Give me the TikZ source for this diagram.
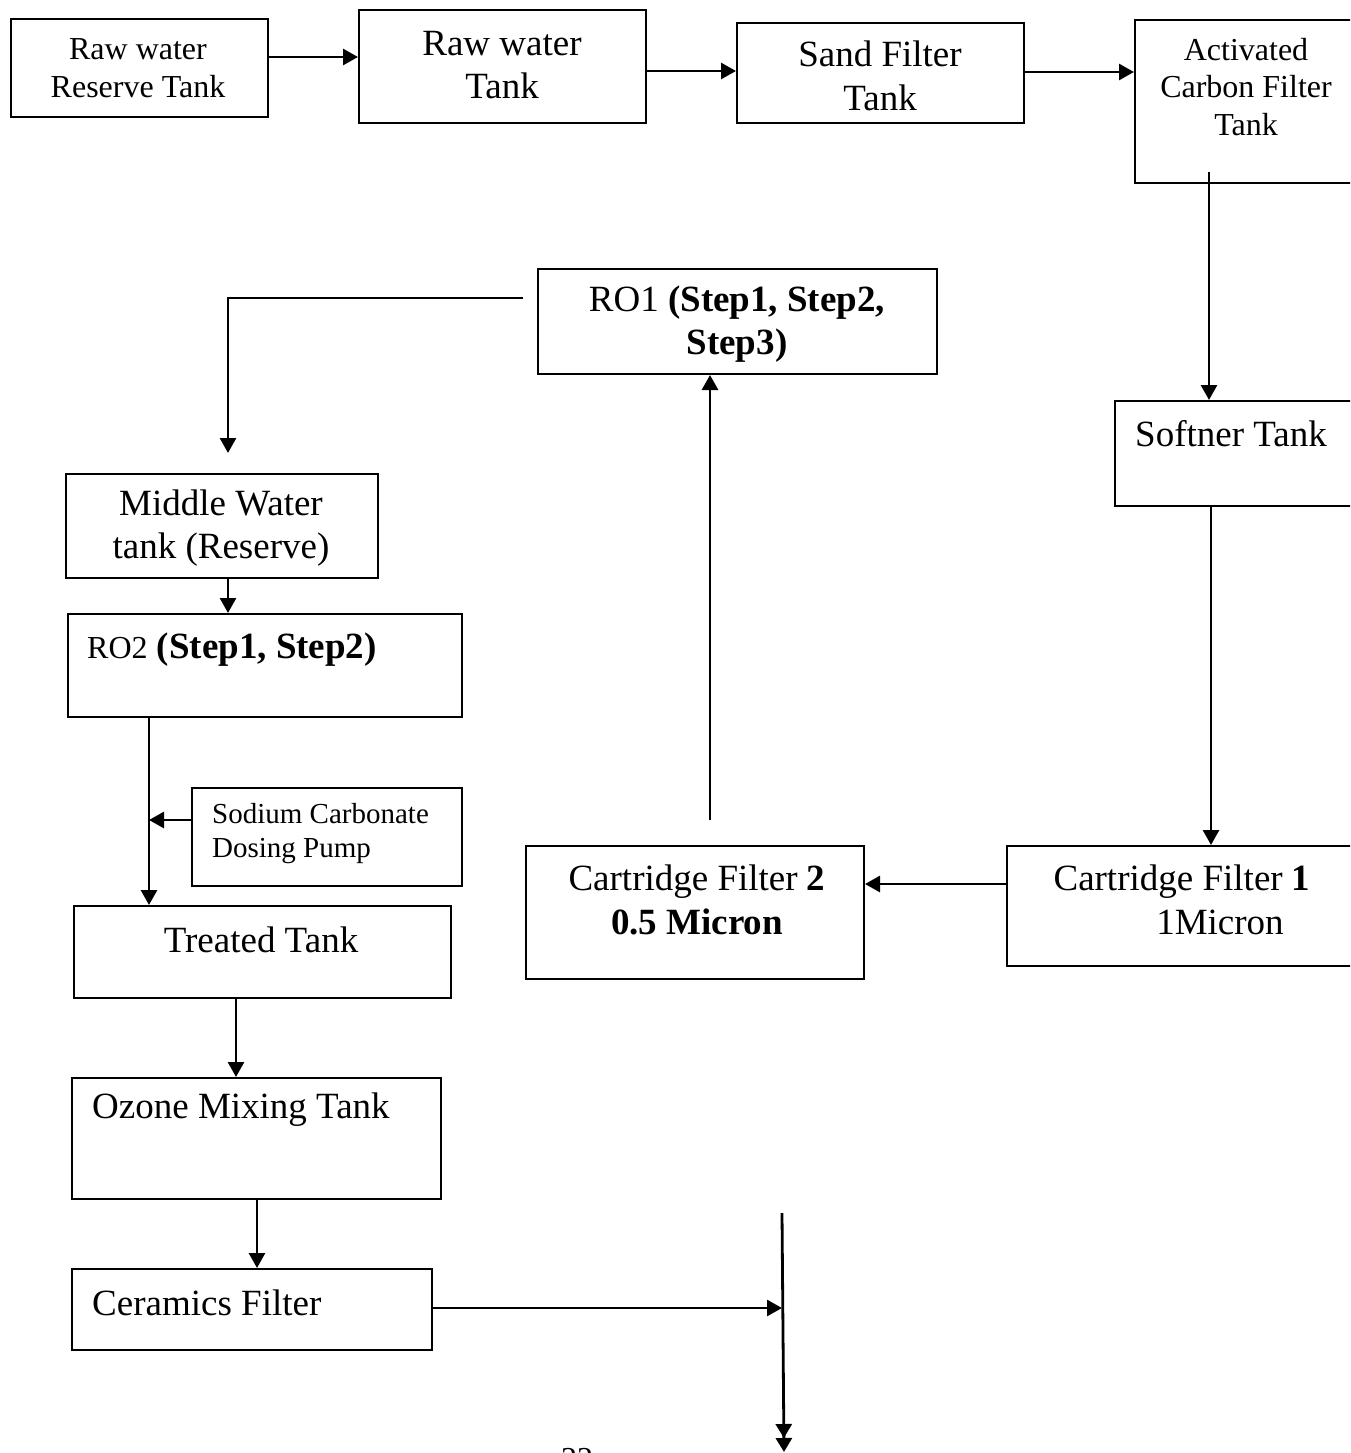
\documentclass[tikz,border=0pt]{standalone}
\usepackage{fontspec}
\setmainfont{Liberation Serif}
\usetikzlibrary{arrows.meta}
\newcommand{\bigtxt}{\fontsize{37}{43.5}\selectfont}
\newcommand{\smalltxt}{\fontsize{32}{37.5}\selectfont}
\newcommand{\pumptxt}{\fontsize{29}{34}\selectfont}
\begin{document}
\begin{tikzpicture}[x=1pt,y=-1pt,
  box/.style={draw, line width=2pt, anchor=north west, inner sep=0pt},
  lbl/.style={inner sep=0pt, align=center},
  lbll/.style={inner sep=0pt, align=left, anchor=west},
  arr/.style={line width=2.8pt, -{Triangle[length=15pt,width=16pt]}},
  flow/.style={line width=2.8pt}]
\useasboundingbox (0,0) rectangle (1350,1453);
\clip (0,0) rectangle (1350,1453);

% tanks and treatment units
\node[box, minimum width=257pt, minimum height=98pt]  (rwr) at (10,18)   {};
\node[box, minimum width=287pt, minimum height=113pt] (rwt) at (358,9)   {};
\node[box, minimum width=287pt, minimum height=100pt] (sft) at (736,22)  {};
\node[box, minimum width=260pt, minimum height=163pt] (acf) at (1134,19) {};
\node[box, minimum width=280pt, minimum height=105pt] (sof) at (1114,400) {};
\node[box, minimum width=380pt, minimum height=120pt] (cf1) at (1006,845) {};
\node[box, minimum width=338pt, minimum height=133pt] (cf2) at (525,845) {};
\node[box, minimum width=399pt, minimum height=105pt] (ro1) at (537,268) {};
\node[box, minimum width=312pt, minimum height=104pt] (mwt) at (65,473)  {};
\node[box, minimum width=394pt, minimum height=103pt] (ro2) at (67,613)  {};
\node[box, minimum width=270pt, minimum height=98pt]  (sod) at (191,787) {};
\node[box, minimum width=377pt, minimum height=92pt]  (trt) at (73,905)  {};
\node[box, minimum width=369pt, minimum height=121pt] (ozn) at (71,1077) {};
\node[box, minimum width=360pt, minimum height=81pt]  (cer) at (71,1268) {};

% labels
\node[lbl, font=\smalltxt] (trwr) at (138,68) {Raw water\\Reserve Tank};
\node[lbl, font=\bigtxt]   (trwt) at (502,65) {Raw water\\Tank};
\node[lbl, font=\bigtxt]   (tsft) at (880,76) {Sand Filter\\Tank};
\node[lbl, font=\smalltxt] (tacf) at (1246,87) {Activated\\Carbon Filter\\Tank};
\node[lbll, font=\bigtxt]  (tsof) at (1135,434) {Softner Tank};
\node[lbl, font=\bigtxt]   (tcf1) at (1182,900) {Cartridge Filter \textbf{1}\\\hspace*{76pt}1Micron};
\node[lbl, font=\bigtxt]   (tcf2) at (697,900) {Cartridge Filter \textbf{2}\\\textbf{0.5 Micron}};
\node[lbl, font=\bigtxt]   (tro1) at (737,324) {RO1 \textbf{(Step1, Step2,}\\\textbf{Step3)}};
\node[lbl, font=\bigtxt]   (tmwt) at (221,528) {Middle Water\\tank (Reserve)};
\node[lbll, font=\bigtxt]  (tro2) at (87,650) {{\smalltxt RO2} \textbf{(Step1, Step2)}};
\node[lbll, font=\pumptxt] (tsod) at (212,834) {Sodium Carbonate\\Dosing Pump};
\node[lbl, font=\bigtxt]   (ttrt) at (261,940) {Treated Tank};
\node[lbll, font=\bigtxt]  (tozn) at (92,1110) {Ozone Mixing Tank};
\node[lbll, font=\bigtxt]  (tcer) at (92,1303) {Ceramics Filter};
\node[lbl, font=\smalltxt, anchor=north] (pgno) at (577,1448) {22};

% free ends of the flow lines
\coordinate (acfout) at (1209,172);
\coordinate (cf2out) at (710,820);
\coordinate (ro1out) at (523,298);
\coordinate (mwtin)  at (228,453);
\coordinate (ro2out) at (149,716);
\coordinate (dose)   at (149,820);
\coordinate (prodtop) at (782,1213);
\coordinate (prodbot) at (784,1452);

% flow lines
\draw[arr] (rwr.east |- 0,57) -- (rwt.west |- 0,57);
\draw[arr] (rwt.east |- 0,71) -- (sft.west |- 0,71);
\draw[arr] (sft.east |- 0,72) -- (acf.west |- 0,72);
\draw[arr] (acfout) -- (sof.north -| acfout);
\draw[arr] (sof.south -| 1211,0) -- (cf1.north -| 1211,0);
\draw[arr] (cf1.west |- 0,884) -- (cf2.east |- 0,884);
\draw[arr] (cf2out) -- (ro1.south -| cf2out);
\draw[arr] (ro1out) -| (mwtin);
\draw[arr] (mwt.south -| 228,0) -- (ro2.north -| 228,0);
\draw[arr] (ro2out) -- (trt.north -| ro2out);
\draw[arr] (sod.west |- dose) -- (dose);
\draw[arr] (trt.south -| 236,0) -- (ozn.north -| 236,0);
\draw[arr] (ozn.south -| 257,0) -- (cer.north -| 257,0);
\draw[arr] (cer.east |- 0,1308) -- (prodtop |- 0,1308);
\draw[flow, -{Triangle[length=14pt,width=16pt] Triangle[length=14pt,width=16pt]}] (prodtop) -- (prodbot);
\end{tikzpicture}
\end{document}
